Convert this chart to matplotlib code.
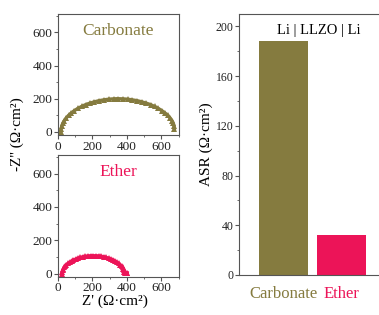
import matplotlib
matplotlib.use("Agg")
import matplotlib.pyplot as plt
from matplotlib.ticker import MultipleLocator

plt.rcParams['font.family'] = ['Liberation Serif', 'DejaVu Serif']
plt.rcParams['font.size'] = 8

# Nyquist data, Z' and -Z'' in ohm*cm^2
carb_zre = [17, 18, 22, 28, 37, 48, 62, 78, 95, 115, 137, 160, 185, 211, 238,
            266, 294, 323, 346, 375, 404, 432, 460, 487, 513, 538, 561, 583,
            603, 621, 637, 651, 662, 670, 674, 676]
carb_zim = [0, 17, 35, 52, 68, 84, 100, 114, 128, 141, 153, 164, 173, 181, 188,
            193, 197, 199, 200, 199, 197, 193, 188, 181, 173, 164, 153, 141,
            128, 114, 100, 84, 68, 52, 35, 17]
ether_zre = [25, 26, 28, 32, 36, 42, 49, 58, 68, 79, 90, 103, 116, 130, 144,
             159, 174, 190, 205, 221, 236, 251, 266, 280, 294, 307, 320, 331,
             342, 352, 361, 369, 375, 380, 384, 386, 392, 398, 403]
ether_zim = [0, 9, 19, 28, 37, 45, 53, 61, 68, 75, 82, 87, 92, 97, 101,
             104, 106, 107, 107, 107, 106, 104, 101, 97, 92, 87, 82, 75,
             68, 61, 53, 45, 37, 28, 19, 9, 6, 4, 4]

# area specific resistance
asr_labels = ['Carbonate', 'Ether']
asr_values = [188, 32]

olive = '#857B3F'
pink = '#EC1458'
spine_c = '#555555'

fig = plt.figure(figsize=(3.79, 3.15), dpi=100)
ax1 = fig.add_axes([0.153, 0.571, 0.318, 0.385])
ax2 = fig.add_axes([0.153, 0.121, 0.318, 0.387])
ax3 = fig.add_axes([0.631, 0.127, 0.38, 0.829])

for ax, x, y, c, name in [(ax1, carb_zre, carb_zim, olive, 'Carbonate'),
                          (ax2, ether_zre, ether_zim, pink, 'Ether')]:
    ax.plot(x, y, color=c, lw=2.4, marker='^', ms=4, mew=0)
    ax.set_xlim(0, 700)
    ax.set_ylim(-20, 712)
    ax.set_xticks([0, 200, 400, 600])
    ax.set_yticks([0, 200, 400, 600])
    ax.xaxis.set_minor_locator(MultipleLocator(100))
    ax.yaxis.set_minor_locator(MultipleLocator(100))
    ax.tick_params(which='major', direction='out', length=3, width=0.8,
                   colors=spine_c, labelcolor='#222222', labelsize=9.5, pad=1)
    ax.tick_params(which='minor', direction='out', length=1.5, width=0.6,
                   colors=spine_c)
    for s in ax.spines.values():
        s.set_color(spine_c)
        s.set_linewidth(0.8)
    ax.text(0.5, 0.86, name, transform=ax.transAxes, color=c, fontsize=12.5,
            ha='center', va='center')

fig.text(0.046, 0.575, "-Z'' (Ω·cm²)", rotation=90, ha='center', va='center',
         fontsize=11)
fig.text(0.302, 0.045, "Z' (Ω·cm²)", ha='center', va='center', fontsize=11)

# ASR bars
ax3.bar([0, 1], asr_values, width=0.85, color=[olive, pink])
ax3.set_xlim(-0.76, 1.72)
ax3.set_ylim(0, 210)
ax3.set_yticks([0, 40, 80, 120, 160, 200])
ax3.yaxis.set_minor_locator(MultipleLocator(20))
ax3.set_xticks([0, 1])
ax3.set_xticklabels(asr_labels, fontsize=12)
for lbl, c in zip(ax3.get_xticklabels(), [olive, pink]):
    lbl.set_color(c)
ax3.tick_params(axis='x', length=0, pad=8)
ax3.tick_params(axis='y', which='major', direction='out', length=3, width=0.8,
                colors=spine_c, labelcolor='#222222', labelsize=8.5, pad=1)
ax3.tick_params(axis='y', which='minor', direction='out', length=1.5,
                width=0.6, colors=spine_c)
for s in ax3.spines.values():
    s.set_color(spine_c)
    s.set_linewidth(0.8)
ax3.set_ylabel('ASR (Ω·cm²)', fontsize=11, labelpad=2)
ax3.text(0.55, 0.935, 'Li | LLZO | Li', transform=ax3.transAxes, fontsize=10.5,
         ha='center', va='center')

fig.savefig('out.png', dpi=100)
